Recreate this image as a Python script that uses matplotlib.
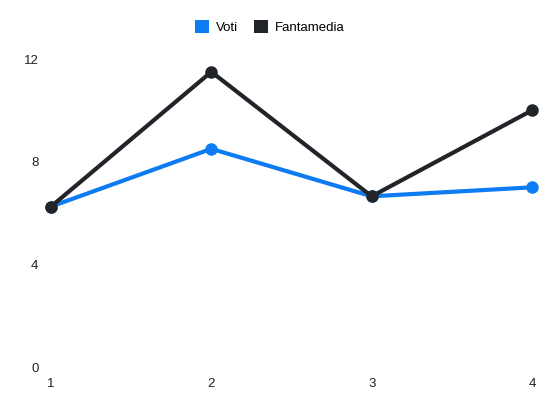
import matplotlib
matplotlib.use('Agg')
import matplotlib.pyplot as plt
from matplotlib.patches import Patch

plt.rcParams['font.family'] = ['Liberation Sans', 'DejaVu Sans']

# dati
giornate = [1, 2, 3, 4]
voti = [6.25, 8.5, 6.65, 7.0]
fantamedia = [6.25, 11.5, 6.65, 10.0]
y_ticks = [0, 4, 8, 12]

col_voti = "#0d7cf2"
col_fm = "#212529"

fig = plt.figure(figsize=(5.5, 4.12), dpi=100)
ax = fig.add_axes([51 / 550, 45 / 412, 481 / 550, 308 / 412])

ax.plot(giornate, voti, color=col_voti, lw=3.0, marker="o", ms=8,
        clip_on=False, zorder=2)
ax.plot(giornate, fantamedia, color=col_fm, lw=3.0, marker="o", ms=8,
        clip_on=False, zorder=3)

ax.set_xlim(1, 4)
ax.set_ylim(0, 12)
ax.set_xticks(giornate)
ax.set_yticks(y_ticks)
ax.tick_params(length=0, labelsize=9.5, colors="#222222")
ax.tick_params(axis="y", pad=9)
ax.tick_params(axis="x", pad=8)
for s in ax.spines.values():
    s.set_visible(False)

handles = [Patch(facecolor=col_voti, label="Voti"),
           Patch(facecolor=col_fm, label="Fantamedia")]
fig.legend(handles=handles, loc="center", bbox_to_anchor=(0.49, 0.934), ncol=2,
           frameon=False, fontsize=9.5, handlelength=1.1, handleheight=1.1,
           handletextpad=0.5, columnspacing=1.2)

fig.savefig("out.png", dpi=100, facecolor="white")
